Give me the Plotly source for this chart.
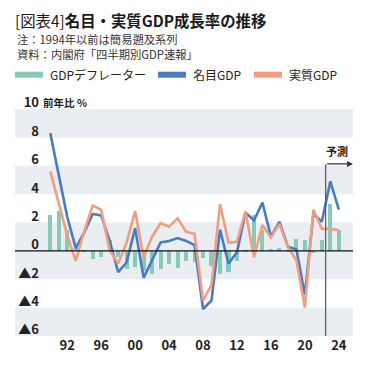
import plotly.graph_objects as go

# ---------------- data ----------------
years = list(range(1990, 2025))
nominal = [8.3, 5.4, 2.4, 0.2, 1.3, 2.6, 2.5, 0.7, -1.5, -0.8,
           1.6, -1.9, -0.7, 0.6, 0.7, 0.9, 0.7, 0.4, -4.1, -3.5,
           1.5, -0.9, -0.1, 2.7, 2.15, 3.4, 1.0, 2.05, 0.3, 0.1,
           -3.1, 2.6, 2.05, 4.9, 2.9]
real = [5.6, 3.3, 1.1, -0.7, 1.4, 3.2, 2.9, 0.05, -0.9, 0.6,
        2.8, -0.45, 1.0, 1.95, 1.7, 2.3, 1.35, 1.2, -3.5, -2.4,
        3.3, 0.57, 0.64, 2.8, -0.45, 1.82, 0.95, 1.9, 0.28, -0.66,
        -4.0, 2.9, 1.55, 1.55, 1.45]
deflator = [2.55, 2.8, 1.45, 0.5, -0.1, -0.55, -0.4, 0.8, -0.45, -1.3,
            -1.15, -1.4, -1.6, -1.3, -0.95, -1.2, -0.7, -0.8, -0.5, -1.1,
            -1.6, -1.5, -0.7, -0.1, 2.5, 1.5, 0.1, 0.2, -0.05, 0.85,
            0.8, -0.15, 0.75, 3.3, 1.5]

x_tickvals = [1992, 1996, 2000, 2004, 2008, 2012, 2016, 2020, 2024]
x_ticktext = ["92", "96", "00", "04", "08", "12", "16", "20", "24"]
y_tickvals = [10, 8, 6, 4, 2, 0, -2, -4, -6]
y_ticktext = ["10", "8", "6", "4", "2", "0", "▲2", "▲4", "▲6"]
bands = [(8, 10), (4, 6), (-2, 2), (-6, -4)]
forecast_start = 2022.45

names = ["GDPデフレーター", "名目GDP", "実質GDP"]
colors = ["#86cab7", "#4b7cc0", "#f09e80"]

# ---------------- layout constants ----------------
OFF = 8                      # browser default body margin
W, H = 366 - 2 * OFF, 365 - 2 * OFF
# plot area in page pixels: x 40..353, y 109.2..335.6
ML = 40 - OFF
MR = W - (353 - OFF)
MT = 109.2 - OFF
MB = H - (335.6 - OFF)
plot_w = W - ML - MR
plot_h = H - MT - MB
FONT = "Noto Sans CJK JP"
x_range = [1988.79, 2025.67]


def px_x(px):  # page px -> paper x
    return (px - OFF - ML) / plot_w


def px_y(py):  # page px -> paper y
    return (H - MB - (py - OFF)) / plot_h


band_x0 = px_x(15)

fig = go.Figure()

fig.add_trace(go.Bar(x=years, y=deflator, marker=dict(color=colors[0], line=dict(width=0)),
                     width=0.48, name=names[0]))
fig.add_trace(go.Scatter(x=years, y=nominal, mode="lines", line=dict(color=colors[1], width=2.6),
                         name=names[1]))
fig.add_trace(go.Scatter(x=years, y=real, mode="lines", line=dict(color=colors[2], width=2.6),
                         name=names[2]))

shapes = []
for y0, y1 in bands:
    shapes.append(dict(type="rect", xref="paper", yref="y", x0=band_x0, x1=1, y0=y0, y1=y1,
                       fillcolor="#eaedf1", line=dict(width=0), layer="below"))
shapes.append(dict(type="line", xref="paper", yref="y", x0=band_x0, x1=1, y0=0, y1=0,
                   line=dict(color="#111111", width=1.2), layer="above"))
shapes.append(dict(type="line", xref="x", yref="y", x0=forecast_start, x1=forecast_start,
                   y0=-6, y1=6.13, line=dict(color="#555555", width=1.2), layer="above"))

annotations = [
    dict(xref="paper", yref="y", x=px_x(41), y=10, xanchor="left", yanchor="middle",
         text="<b>前年比 %</b>", showarrow=False, font=dict(family=FONT, size=10.5, color="#222222"),
         yshift=7),
    dict(xref="x", yref="y", x=x_range[1], y=6.13, ax=forecast_start, ay=6.13,
         axref="x", ayref="y", text="", showarrow=True, arrowhead=2, arrowsize=1,
         arrowwidth=1.2, arrowcolor="#333333", standoff=0, startstandoff=0),
    dict(xref="x", yref="y", x=2023.8, y=6.35, xanchor="center", yanchor="bottom",
         text="<b>予測</b>", showarrow=False, font=dict(family=FONT, size=11, color="#222222")),
    dict(xref="paper", yref="paper", x=band_x0, y=px_y(47), xanchor="left", yanchor="middle",
         align="left", text="注：1994年以前は簡易遡及系列<br>資料：内閣府「四半期別GDP速報」",
         showarrow=False, font=dict(family=FONT, size=11.3, color="#333333")),
]

# manual legend (swatch + label)
legend_swatch_px = [15, 158, 254]
for name, color, sx in zip(names, colors, legend_swatch_px):
    shapes.append(dict(type="rect", xref="paper", yref="paper", x0=px_x(sx), x1=px_x(sx + 28),
                       y0=px_y(78), y1=px_y(72), fillcolor=color, line=dict(width=0)))
    annotations.append(dict(xref="paper", yref="paper", x=px_x(sx + 33), y=px_y(75),
                            xanchor="left", yanchor="middle", text=name, showarrow=False,
                            font=dict(family=FONT, size=12, color="#222222")))

fig.update_layout(
    template="plotly",
    width=W, height=H,
    margin=dict(l=ML, r=MR, t=MT, b=MB, pad=0, autoexpand=False),
    paper_bgcolor="white", plot_bgcolor="rgba(0,0,0,0)",
    font=dict(family=FONT, color="#222222"),
    showlegend=False,
    title=dict(text="[図表4]<b>名目・実質GDP成長率の推移</b>", xref="container", yref="container",
               x=(15 - OFF) / W, xanchor="left", y=1 - (22 - OFF) / H, yanchor="middle",
               font=dict(family=FONT, size=15.4, color="#1a1a1a")),
    xaxis=dict(range=x_range, tickvals=x_tickvals, ticktext=x_ticktext, showgrid=False,
               zeroline=False, showline=False, ticks="", automargin=False,
               tickfont=dict(family=FONT, size=13, color="#222222", weight="bold")),
    yaxis=dict(range=[-6, 10], tickvals=y_tickvals, ticktext=y_ticktext, showgrid=False,
               zeroline=False, showline=False, ticks="", ticklabelposition="outside top",
               ticklabelshift=3, automargin=False,
               tickfont=dict(family=FONT, size=13, color="#222222", weight="bold")),
    shapes=shapes, annotations=annotations, bargap=0,
)

fig.write_html("out.html")
